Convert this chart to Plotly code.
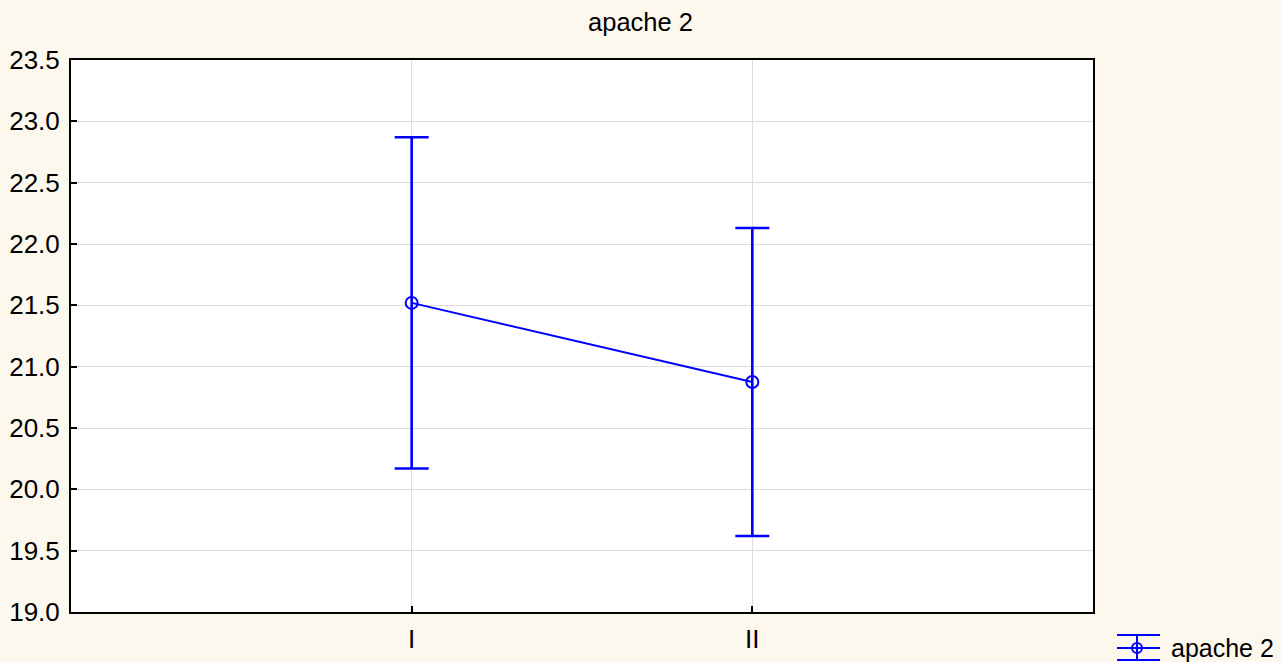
import plotly.graph_objects as go

# Group means of the APACHE II score with their confidence half-widths
groups = ["I", "II"]
means = [21.52, 20.875]
half_widths = [1.35, 1.255]

series_name = "apache 2"
y_ticks = [19.0, 19.5, 20.0, 20.5, 21.0, 21.5, 22.0, 22.5, 23.0, 23.5]

BLUE = "#0000ff"
BG = "#fdf8ee"
FONT = "Liberation Sans, Arial, sans-serif"

fig = go.Figure()
fig.add_trace(go.Scatter(
    x=groups,
    y=means,
    mode="lines+markers",
    name=series_name,
    line=dict(color=BLUE, width=2),
    marker=dict(symbol="circle-open", size=12, color=BLUE, line=dict(width=2, color=BLUE)),
    error_y=dict(type="data", array=half_widths, visible=True,
                 color=BLUE, thickness=2.6, width=17),
    showlegend=False,
))

W, H = 1281, 662
L, R, T, B = 71, 188, 60, 50

# Legend glyph drawn in paper space, to the lower right of the plot frame
def px(x):
    return (x - L) / (W - L - R)

def py(y):
    return (H - B - y) / (H - T - B)

gx0, gx1, gxc = px(1117), px(1160), px(1137)
g_top, g_mid, g_bot = py(635), py(648), py(660)
leg_line = dict(color=BLUE, width=2)
shapes = [
    dict(type="line", xref="paper", yref="paper", x0=gx0, x1=gx1, y0=g_top, y1=g_top, line=leg_line),
    dict(type="line", xref="paper", yref="paper", x0=gx0, x1=gx1, y0=g_mid, y1=g_mid, line=leg_line),
    dict(type="line", xref="paper", yref="paper", x0=gx0, x1=gx1, y0=g_bot, y1=g_bot, line=leg_line),
    dict(type="line", xref="paper", yref="paper", x0=gxc, x1=gxc, y0=g_top, y1=g_bot, line=leg_line),
    dict(type="circle", xref="paper", yref="paper",
         x0=px(1132), x1=px(1142), y0=py(643), y1=py(653), line=leg_line, fillcolor="rgba(0,0,0,0)"),
]

fig.update_layout(
    width=W, height=H,
    margin=dict(l=L, r=R, t=T, b=B, autoexpand=False),
    paper_bgcolor=BG,
    plot_bgcolor="white",
    font=dict(family=FONT, color="black", size=26),
    title=dict(text="apache 2", x=0.5, xanchor="center", xref="container",
               y=1 - 22 / H, yanchor="middle", yref="container",
               font=dict(size=25.5, family=FONT), automargin=False),
    shapes=shapes,
    annotations=[dict(text=series_name, xref="paper", yref="paper",
                      x=px(1170), y=py(648), xanchor="left", yanchor="middle",
                      showarrow=False, borderpad=0,
                      font=dict(size=25, family=FONT))],
    xaxis=dict(
        type="category", range=[-1, 2], automargin=False,
        showgrid=True, gridcolor="#dcdcdc", gridwidth=1,
        showline=True, linecolor="black", linewidth=2, mirror=True,
        ticks="inside", ticklen=6, tickcolor="black", tickwidth=1.5,
        tickfont=dict(size=26), zeroline=False, ticklabelstandoff=3,
    ),
    yaxis=dict(
        range=[19.0, 23.5], tickvals=y_ticks, tickformat=".1f", automargin=False,
        showgrid=True, gridcolor="#dcdcdc", gridwidth=1,
        showline=True, linecolor="black", linewidth=2, mirror=True,
        ticks="inside", ticklen=6, tickcolor="black", tickwidth=1.5,
        tickfont=dict(size=26), zeroline=False, ticklabelstandoff=4,
    ),
)

fig.write_html("out.html")
